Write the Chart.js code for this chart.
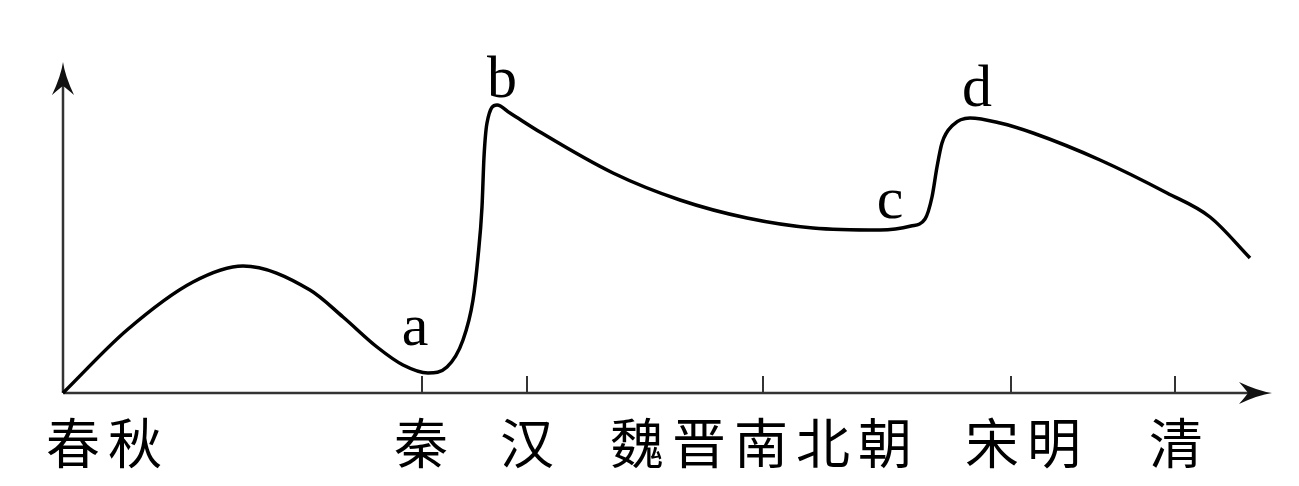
<!DOCTYPE html>
<html>
<head>
<meta charset="utf-8">
<script src="https://cdn.jsdelivr.net/npm/chart.js@4"></script>
<style>
    body { margin: 0; background: #fff; }
    #wrap { width: 1299px; height: 486px; }
</style>
</head>
<body>
<div id="wrap"><canvas id="chart"></canvas></div>
<script>
// curve (x along the time axis, y = height)
const curveX = [0, 64, 130, 180, 247, 280, 314, 340, 365, 384, 400, 410, 415, 419, 421, 424, 434, 447, 477, 550, 617, 684, 750, 817, 848, 862, 869, 874, 879, 890, 907, 937, 970, 1037, 1104, 1147, 1187];
const curveY = [0, 63, 111, 127, 103, 76, 46, 28, 20, 26, 53, 93, 136, 186, 236, 270, 288, 280, 261, 220, 193, 175, 165, 163, 167, 174, 196, 226, 250, 268, 275, 270, 260, 233, 200, 176, 135];

// tick marks on the time axis
const tickValues = [359, 464, 700, 948, 1112];

// period names and where they sit on the axis
const periodNames = ["春秋", "秦", "汉", "魏晋南北朝", "宋明", "清"];
const periodAt = [41, 358, 464, 698, 960, 1113];

// letters marking the turning points
const pointLetters = ["a", "b", "c", "d"];
const letterX = [352, 439, 827, 914];
const letterY = [48, 296, 175, 287];

const points = curveX.map((x, i) => ({ x: x, y: curveY[i] }));

function drawArrow(ctx, tipX, tipY, dir) {
    // dir: "up" or "right"
    ctx.save();
    ctx.translate(tipX, tipY);
    if (dir === "right") ctx.rotate(Math.PI / 2);
    ctx.beginPath();
    ctx.moveTo(0, 0);
    ctx.quadraticCurveTo(2, 14, 11, 33);
    ctx.quadraticCurveTo(3, 26, 0, 24);
    ctx.quadraticCurveTo(-3, 26, -11, 33);
    ctx.quadraticCurveTo(-2, 14, 0, 0);
    ctx.closePath();
    ctx.fillStyle = "#111";
    ctx.fill();
    ctx.restore();
}

const axesPlugin = {
    id: "axesPlugin",
    beforeDatasetsDraw(chart) {
        const ctx = chart.ctx;
        const xs = chart.scales.x;
        const ys = chart.scales.y;
        const x0 = xs.getPixelForValue(0);
        const y0 = ys.getPixelForValue(0);
        const xEnd = chart.chartArea.right;
        const yEnd = chart.chartArea.top;

        ctx.save();
        ctx.strokeStyle = "#333";
        ctx.lineWidth = 2.5;
        ctx.beginPath();
        ctx.moveTo(x0, y0);
        ctx.lineTo(xEnd - 20, y0);
        ctx.moveTo(x0, y0);
        ctx.lineTo(x0, yEnd + 20);
        ctx.stroke();

        // tick marks
        ctx.lineWidth = 2;
        ctx.beginPath();
        tickValues.forEach((v) => {
            const px = xs.getPixelForValue(v);
            ctx.moveTo(px, y0);
            ctx.lineTo(px, y0 - 17);
        });
        ctx.stroke();
        ctx.restore();

        drawArrow(ctx, x0, yEnd, "up");
        drawArrow(ctx, xEnd, y0, "right");
    },
    afterDatasetsDraw(chart) {
        const ctx = chart.ctx;
        const xs = chart.scales.x;
        const ys = chart.scales.y;

        ctx.save();
        ctx.fillStyle = "#000";
        ctx.textBaseline = "middle";
        ctx.textAlign = "center";
        ctx.font = '54px "Noto Sans CJK SC"';
        periodNames.forEach((name, i) => {
            const cx = xs.getPixelForValue(periodAt[i]);
            const chars = Array.from(name);
            const pitch = 62;
            const start = cx - (chars.length - 1) * pitch / 2;
            chars.forEach((ch, j) => {
                ctx.fillText(ch, start + j * pitch, 443);
            });
        });

        ctx.font = '60px "Liberation Serif"';
        ctx.textBaseline = "alphabetic";
        pointLetters.forEach((letter, i) => {
            ctx.fillText(letter, xs.getPixelForValue(letterX[i]), ys.getPixelForValue(letterY[i]));
        });
        ctx.restore();
    }
};

new Chart(document.getElementById("chart"), {
    type: "line",
    data: {
        datasets: [{
            data: points,
            borderColor: "#000",
            borderWidth: 3.5,
            pointRadius: 0,
            fill: false,
            cubicInterpolationMode: "monotone",
            clip: false
        }]
    },
    options: {
        responsive: true,
        maintainAspectRatio: false,
        animation: false,
        layout: {
            padding: { left: 63, top: 62, right: 27, bottom: 93 }
        },
        plugins: {
            legend: { display: false },
            tooltip: { enabled: false }
        },
        scales: {
            x: { type: "linear", min: 0, max: 1209, display: false },
            y: { type: "linear", min: 0, max: 331, display: false }
        }
    },
    plugins: [axesPlugin]
});
</script>
</body>
</html>
